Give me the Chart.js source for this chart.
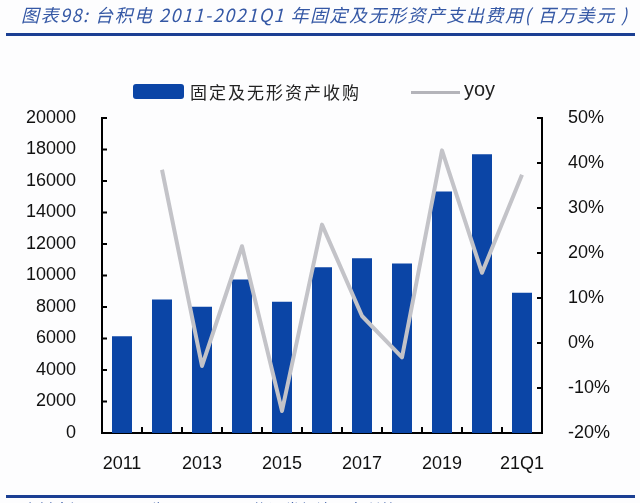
<!doctype html>
<html lang="zh">
  <head>
    <meta charset="utf-8">
    <title>台积电 固定及无形资产支出</title>
    <style>
      body{
        margin: 0;
        background: #fff;
      }
      #page{
        position: relative;
        width: 640px;
        height: 503px;
        overflow: hidden;
        background: #fdfdfe;
      }
      #title{
        position: absolute;
        left: 21px;
        top: 1px;
        font: italic 18px "Noto Sans CJK SC", sans-serif;
        letter-spacing: 1.5px;
        color: #3558a5;
        white-space: nowrap;
      }
      .rule{
        position: absolute;
        left: 6px;
        width: 629px;
        height: 3px;
        background: #1b3f93;
      }
      #source{
        position: absolute;
        left: 22px;
        top: 497px;
        font: 16px "Noto Sans CJK SC", sans-serif;
        color: #3558a5;
        white-space: nowrap;
      }
      #legend-box{
        position: absolute;
        left: 133px;
        top: 84px;
        width: 51px;
        height: 15px;
        border-radius: 3px;
        background: #0b45a6;
      }
      #legend-bar-text{
        position: absolute;
        left: 190px;
        top: 79px;
        font: 17px "Noto Sans CJK SC", sans-serif;
        letter-spacing: 2px;
        color: #222;
        white-space: nowrap;
      }
      #legend-line{
        position: absolute;
        left: 411px;
        top: 91px;
        width: 49px;
        height: 3px;
        background: #b4b4ba;
      }
      #legend-line-text{
        position: absolute;
        left: 464px;
        top: 78px;
        font: 20px "Liberation Sans", sans-serif;
        color: #222;
      }
      #chart{
        position: absolute;
        left: 0;
        top: 0;
      }
    </style>
  </head>
  <body>
    <div id="page">
      <canvas id="chart" width="640" height="503"></canvas>
      <div id="title">图表98: 台积电 2011-2021Q1 年固定及无形资产支出费用( 百万美元 )</div>
      <div class="rule" style="top:33px"></div>
      <div id="legend-box"></div>
      <div id="legend-bar-text">固定及无形资产收购</div>
      <div id="legend-line"></div>
      <div id="legend-line-text">yoy</div>
      <div class="rule" style="top:495px"></div>
      <div id="source">资料来源：公司公告、Wind、国信证券经济研究所整理</div>
    </div>
  <script src="https://cdn.jsdelivr.net/npm/chart.js"></script>
<script>
  // categories and values
  const years = ["2011", "2012", "2013", "2014", "2015", "2016", "2017", "2018", "2019", "2020", "21Q1"];
  const capex = [6150, 8480, 8020, 9750, 8330, 10520, 11100, 10760, 15330, 17700, 8900];
  const yoy = [null, 38.5, -5.1, 21.5, -15.1, 26.3, 6.0, -3.2, 42.8, 15.6, 37.4];

  const barColor = '#0b45a6'
  const lineColor = '#c3c3c8'
  const tickFont = {family: 'Liberation Sans', size: 18}

  // small inward tick marks like the original
  const innerTicks = {
    id: 'innerTicks',
    afterDraw(chart){
      const ctx = chart.ctx
      const area = chart.chartArea
      const y = chart.scales.y, y1 = chart.scales.y1, x = chart.scales.x
      ctx.save()
      ctx.strokeStyle = '#000'
      ctx.lineWidth = 2
      ctx.beginPath()
      y.ticks.forEach(t => {
        let py = y.getPixelForValue(t.value)
        ctx.moveTo(area.left, py)
        ctx.lineTo(area.left + 5, py)
      })
      y1.ticks.forEach(t => {
        let py = y1.getPixelForValue(t.value)
        ctx.moveTo(area.right, py)
        ctx.lineTo(area.right - 5, py)
      })
      for (let i = 1; i < years.length; i++){
        let px = (x.getPixelForValue(i - 1) + x.getPixelForValue(i)) / 2
        ctx.moveTo(px, area.bottom)
        ctx.lineTo(px, area.bottom - 6)
      }
      ctx.stroke()
      ctx.restore()
    }
  }

  var myChart = new Chart(
    document.getElementById('chart'),
    {
      type: 'bar',
      plugins: [innerTicks],
      data: {
        labels: years,
        datasets: [
          {
            type: 'line',
            label: 'yoy',
            data: yoy,
            yAxisID: 'y1',
            borderColor: lineColor,
            borderWidth: 4,
            borderJoinStyle: 'round',
            pointRadius: 0,
            tension: 0,
            order: 0
          },
          {
            label: '固定及无形资产收购',
            data: capex,
            yAxisID: 'y',
            backgroundColor: barColor,
            barPercentage: 0.5,
            categoryPercentage: 1,
            order: 1
          }
        ]
      },
      options: {
        responsive: false,
        animation: false,
        layout: {
          padding: {top: 118, left: 0, right: 0, bottom: 0}
        },
        plugins: {
          legend: {display: false},
          tooltip: {enabled: false}
        },
        scales: {
          x: {
            grid: {display: false},
            border: {color: '#000', width: 2},
            ticks: {
              font: tickFont,
              color: '#111',
              padding: 12,
              autoSkip: false,
              maxRotation: 0,
              callback: function(v, i){ return i % 2 == 0 ? years[i] : '' }
            },
            afterFit: function(s){ s.height = 70 }
          },
          y: {
            position: 'left',
            min: 0,
            max: 20000,
            grid: {display: false},
            border: {color: '#000', width: 2},
            ticks: {
              stepSize: 2000,
              font: tickFont,
              color: '#111',
              padding: 18,
              callback: function(v){ return String(v) }
            },
            afterFit: function(s){ s.width = 102 }
          },
          y1: {
            position: 'right',
            min: -20,
            max: 50,
            grid: {display: false},
            border: {color: '#000', width: 2},
            ticks: {
              stepSize: 10,
              font: tickFont,
              color: '#111',
              padding: 18,
              callback: function(v){ return v + '%' }
            },
            afterFit: function(s){ s.width = 98 }
          }
        }
      }
    }
  );
</script>
  </body>
</html>
